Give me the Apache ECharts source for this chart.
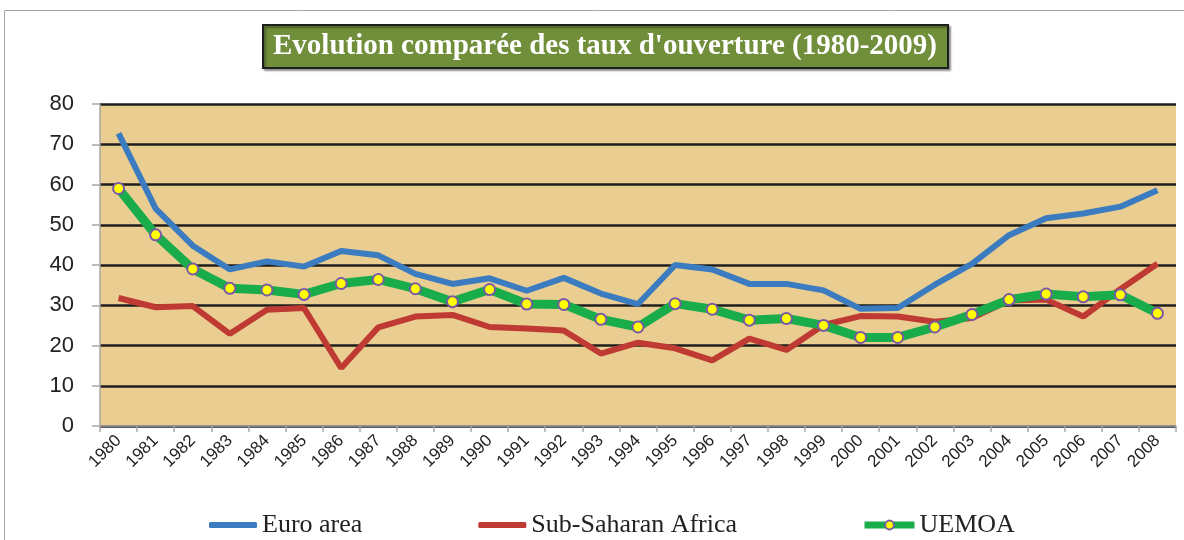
<!DOCTYPE html>
<html>
<head>
<meta charset="utf-8">
<script src="https://cdn.jsdelivr.net/npm/echarts@6/dist/echarts.min.js"></script>
<style>html,body{margin:0;padding:0;background:#fff}#c{width:1184px;height:540px}</style>
</head>
<body>
<div id="c"></div>
<script>
const years = ['1980','1981','1982','1983','1984','1985','1986','1987','1988','1989','1990','1991','1992','1993','1994','1995','1996','1997','1998','1999','2000','2001','2002','2003','2004','2005','2006','2007','2008'];
const euroArea = [72.7,54.0,44.8,38.9,40.9,39.6,43.5,42.4,37.8,35.3,36.7,33.6,36.8,32.9,30.3,40.0,38.9,35.3,35.3,33.7,29.1,29.3,35.1,40.3,47.4,51.6,52.8,54.5,58.6];
const subSaharan = [31.8,29.5,29.8,22.9,28.9,29.3,14.4,24.5,27.2,27.6,24.6,24.2,23.7,18.0,20.7,19.3,16.3,21.7,18.9,25.1,27.3,27.2,25.9,26.8,31.2,31.4,27.2,34.0,40.3];
const uemoa = [59.0,47.5,39.0,34.2,33.8,32.7,35.4,36.4,34.1,30.9,33.9,30.3,30.2,26.5,24.6,30.4,29.0,26.3,26.7,25.0,22.0,22.0,24.6,27.7,31.4,32.8,32.1,32.6,28.0];
const yTicks = {min: 0, max: 80, interval: 10};
const titleText = "Evolution comparée des taux d'ouverture (1980-2009)";

const serif = '"Liberation Serif", "DejaVu Serif", serif';
const sans = '"Liberation Sans", Arial, sans-serif';
const chart = echarts.init(document.getElementById('c'), null, {renderer: 'canvas'});
chart.setOption({
  animation: false,
  backgroundColor: '#ffffff',
  graphic: [
    {type: 'rect', shape: {x: 4.5, y: 10.5, width: 1190, height: 540}, style: {fill: 'none', stroke: '#a6a6a6', lineWidth: 1}, z: 0},
    {type: 'rect', shape: {x: 263, y: 25, width: 685, height: 43}, style: {fill: '#718f3b', stroke: '#1e1e1e', lineWidth: 2, shadowColor: 'rgba(0,0,0,0.35)', shadowOffsetX: 2, shadowOffsetY: 2, shadowBlur: 2}, z: 1},
    {type: 'text', x: 605, y: 47, style: {text: titleText, fill: '#ffffff', font: 'bold 29px ' + serif, textAlign: 'center', textVerticalAlign: 'middle'}, z: 2}
  ],
  grid: {left: 100, right: 8, top: 104, bottom: 114, backgroundColor: '#eacd91', show: true, borderWidth: 0},
  xAxis: {
    type: 'category',
    data: years,
    boundaryGap: true,
    axisLine: {show: true, lineStyle: {color: '#a6a6a6', width: 1.5}},
    axisTick: {show: true, alignWithLabel: false, length: 6, lineStyle: {color: '#a6a6a6', width: 1.5}},
    axisLabel: {rotate: 45, fontSize: 17, color: '#222', fontFamily: sans, margin: 12, interval: 0},
    splitLine: {show: false}
  },
  yAxis: {
    type: 'value',
    min: yTicks.min, max: yTicks.max, interval: yTicks.interval,
    axisLine: {show: true, lineStyle: {color: '#a6a6a6', width: 1.5}},
    axisTick: {show: true, length: 8, lineStyle: {color: '#a6a6a6', width: 1.5}},
    axisLabel: {fontSize: 22, color: '#222', fontFamily: sans, margin: 26},
    splitLine: {show: true, lineStyle: {color: '#1e1e1e', width: 2.5}}
  },
  legend: [
    {
      top: 507, left: 204, itemGap: 116, itemWidth: 48, itemHeight: 6,
      textStyle: {fontSize: 26, color: '#222', fontFamily: serif},
      data: [{name: 'Euro area', icon: 'roundRect'}, {name: 'Sub-Saharan Africa', icon: 'roundRect'}]
    },
    {
      top: 507, left: 856, itemWidth: 50, itemHeight: 11,
      textStyle: {fontSize: 26, color: '#222', fontFamily: serif},
      data: [{name: 'UEMOA', lineStyle: {width: 7}}]
    }
  ],
  series: [
    {name: 'Euro area', type: 'line', data: euroArea, symbol: 'none', lineStyle: {color: '#3b7cc0', width: 6}, itemStyle: {color: '#3b7cc0'}, z: 3},
    {name: 'Sub-Saharan Africa', type: 'line', data: subSaharan, symbol: 'none', lineStyle: {color: '#be3a33', width: 6}, itemStyle: {color: '#be3a33'}, z: 3},
    {name: 'UEMOA', type: 'line', data: uemoa, symbol: 'circle', symbolSize: 11, showAllSymbol: true,
      lineStyle: {color: '#19ac4b', width: 9},
      itemStyle: {color: '#ffff00', borderColor: '#7a5aa6', borderWidth: 2}, z: 4}
  ]
});
</script>
</body>
</html>
